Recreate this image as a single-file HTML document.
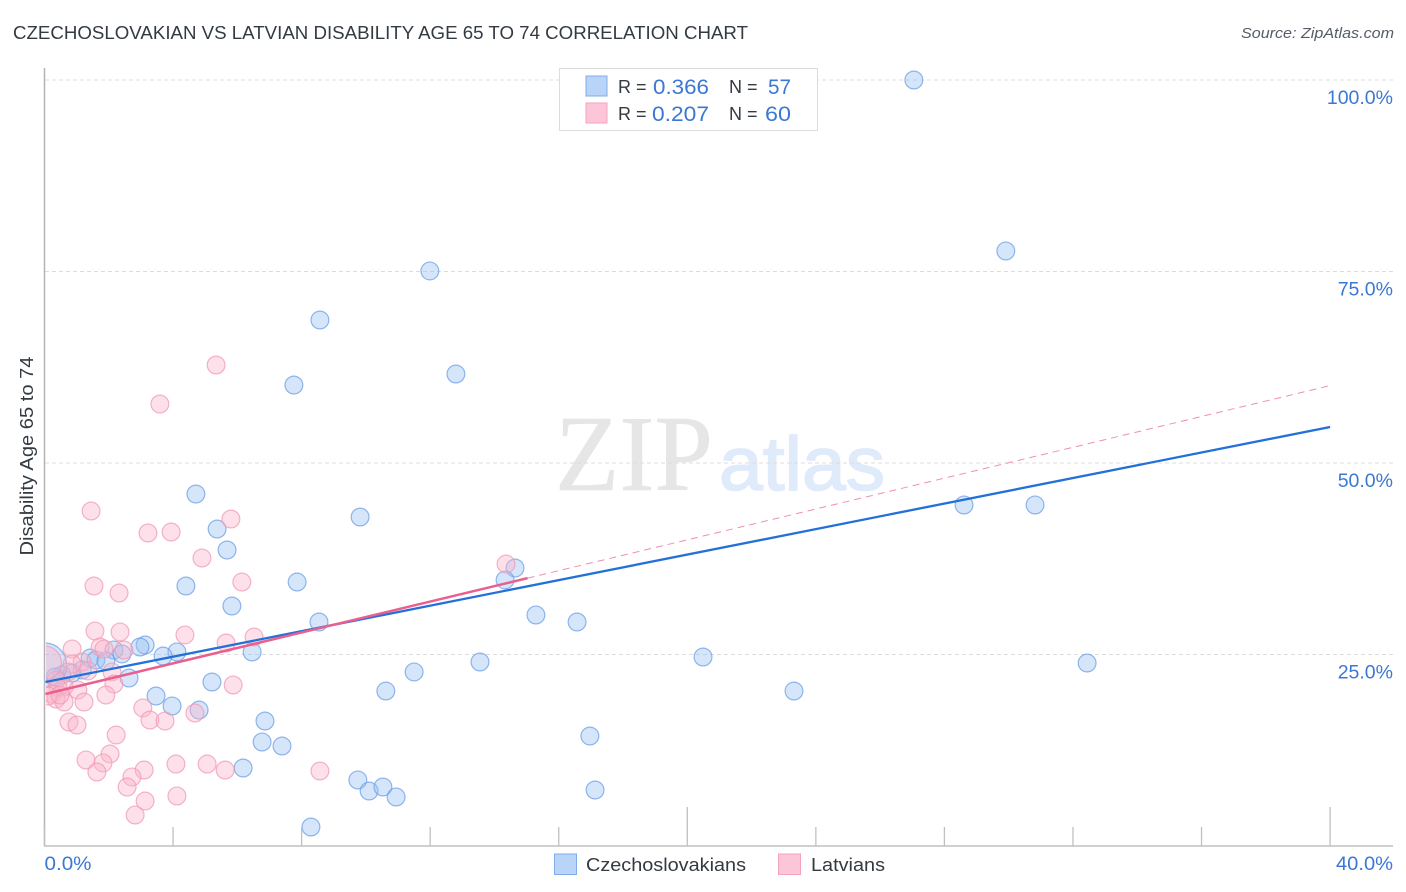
<!DOCTYPE html>
<html lang="en">
<head>
<meta charset="utf-8">
<title>Czechoslovakian vs Latvian Disability Age 65 to 74 Correlation Chart</title>
<style>
html,body{margin:0;padding:0;background:#fff;width:1406px;height:892px;overflow:hidden}
svg{display:block;font-family:"Liberation Sans",sans-serif}
</style>
</head>
<body>
<svg id="chart" xmlns="http://www.w3.org/2000/svg" width="1406" height="892" viewBox="0 0 1406 892">
  <defs>
    <clipPath id="plot-clip"><rect x="46" y="60" width="1350" height="786"/></clipPath>
  </defs>
  <rect x="0" y="0" width="1406" height="892" fill="#ffffff"/>
  <text x="13" y="39" font-size="18.5" fill="#333a42" textLength="735" lengthAdjust="spacingAndGlyphs">CZECHOSLOVAKIAN VS LATVIAN DISABILITY AGE 65 TO 74 CORRELATION CHART</text>
  <text x="1394" y="38" font-size="15" font-style="italic" fill="#555c66" text-anchor="end" textLength="153" lengthAdjust="spacingAndGlyphs">Source: ZipAtlas.com</text>
  <g>
    <text x="555" y="490" font-family="'Liberation Serif',serif" font-size="108" fill="#e6e6e6" stroke="#e6e6e6" stroke-width="0.6" textLength="158" lengthAdjust="spacingAndGlyphs">ZIP</text>
    <text x="719" y="490" font-size="76" fill="#dfeafa" stroke="#dfeafa" stroke-width="1.6" textLength="166" lengthAdjust="spacingAndGlyphs">atlas</text>
  </g>
  <g id="grid"></g>
  <g id="czech-points" clip-path="url(#plot-clip)"></g>
  <g id="latvian-points" clip-path="url(#plot-clip)"></g>
  <rect x="0" y="60" width="44" height="290" fill="none"/>
  <rect x="0" y="630" width="44" height="70" fill="#ffffff"/>
  <g id="axes">
    <line x1="44.5" y1="68" x2="44.5" y2="846" stroke="#b4b4b4" stroke-width="1.5"/>
    <line x1="44" y1="846" x2="1393" y2="846" stroke="#b4b4b4" stroke-width="1.2"/>
  </g>
  <g id="x-ticks"></g>
  <g id="trends"></g>
  <g id="y-labels"></g>
  <g id="x-labels"></g>
  <text transform="translate(33,456) rotate(-90)" font-size="18" fill="#333a42" text-anchor="middle" textLength="199" lengthAdjust="spacingAndGlyphs">Disability Age 65 to 74</text>

  <g>
    <rect x="559.5" y="68.5" width="258" height="62" fill="#ffffff" stroke="#dcdcdc" stroke-width="1"/>
    <rect x="586" y="76" width="21" height="20" fill="#b8d4f8" stroke="#80ace8" stroke-width="1"/>
    <rect x="586" y="103" width="21" height="20" fill="#fdc6d8" stroke="#f2a4be" stroke-width="1"/>
    <text x="618" y="93" font-size="18" fill="#333a42">R =</text>
    <text x="653" y="94" font-size="21" fill="#3b78d4" textLength="56" lengthAdjust="spacingAndGlyphs">0.366</text>
    <text x="729" y="93" font-size="18" fill="#333a42">N =</text>
    <text x="768" y="94" font-size="21" fill="#3b78d4" textLength="23" lengthAdjust="spacingAndGlyphs">57</text>
    <text x="618" y="120" font-size="18" fill="#333a42">R =</text>
    <text x="652" y="121" font-size="21" fill="#3b78d4" textLength="57" lengthAdjust="spacingAndGlyphs">0.207</text>
    <text x="729" y="120" font-size="18" fill="#333a42">N =</text>
    <text x="765" y="121" font-size="21" fill="#3b78d4" textLength="26" lengthAdjust="spacingAndGlyphs">60</text>
  </g>

  <g>
    <rect x="554.5" y="854" width="22" height="20.5" fill="#b8d4f8" stroke="#80ace8" stroke-width="1"/>
    <text x="586" y="871" font-size="18.5" fill="#333a42" textLength="160" lengthAdjust="spacingAndGlyphs">Czechoslovakians</text>
    <rect x="778.5" y="854" width="22" height="20.5" fill="#fdc6d8" stroke="#f2a4be" stroke-width="1"/>
    <text x="811" y="871" font-size="18.5" fill="#333a42" textLength="74" lengthAdjust="spacingAndGlyphs">Latvians</text>
  </g>
</svg>

<script>
// Chart data (percent units)
const czechX = [27.05,29.91,11.99,8.57,12.80,7.76,4.71,28.61,30.82,9.82,5.37,5.68,14.64,14.33,4.40,7.86,5.83,15.29,16.57,8.54,3.13,2.97,2.16,2.41,4.12,6.46,3.69,20.49,1.42,1.60,1.91,13.55,32.44,11.50,1.17,0.86,0.54,0.33,2.63,5.21,10.62,23.32,3.47,3.97,4.81,6.86,6.77,16.97,7.39,6.18,9.75,10.10,10.53,10.94,17.13,8.29,0.00];
const czechY = [100.0,77.68,75.07,68.67,61.62,60.18,45.95,44.52,44.52,42.95,41.38,38.64,36.29,34.73,33.94,34.46,31.33,30.16,29.24,29.24,26.24,25.98,25.59,25.07,25.33,25.33,24.80,24.67,24.54,24.28,24.15,24.02,23.89,22.72,22.98,22.58,22.32,22.06,21.93,21.41,20.23,20.23,19.58,18.28,17.75,16.32,13.58,14.36,13.05,10.18,8.62,7.18,7.70,6.40,7.31,2.48,23.60];
const latvianX = [5.34,3.59,1.45,5.80,3.22,3.94,4.90,14.36,6.14,1.54,2.32,1.57,2.35,4.37,6.52,5.65,0.86,1.73,1.85,2.47,1.17,0.86,1.35,2.10,0.73,0.36,2.16,5.87,0.61,1.04,0.42,1.91,0.23,0.36,0.61,1.23,3.06,4.68,3.28,3.75,0.76,1.01,2.23,2.04,1.29,1.82,1.63,3.10,2.72,2.57,4.09,5.06,5.62,8.57,3.13,4.12,2.82,0.00,0.11,0.48];
const latvianY = [62.79,57.70,43.73,42.69,40.86,40.99,37.60,36.81,34.46,33.94,33.03,28.07,27.94,27.55,27.28,26.50,25.72,25.98,25.72,25.59,24.02,23.76,22.85,22.72,22.72,21.67,21.15,21.02,20.76,20.37,20.63,19.71,19.84,19.19,18.80,18.80,18.02,17.36,16.45,16.32,16.19,15.80,14.49,12.01,11.23,10.84,9.66,9.92,9.01,7.70,10.70,10.70,9.92,9.79,5.87,6.53,4.05,23.90,19.58,19.71];
const czechWeights = [1,1,1,1,1,1,1,1,1,1,1,1,1,1,1,1,1,1,1,1,1,1,1,1,1,1,1,1,1,1,1,1,1,1,1,1,1,1,1,1,1,1,1,1,1,1,1,1,1,1,1,1,1,1,1,1,2.5];
const latvianWeights = [1,1,1,1,1,1,1,1,1,1,1,1,1,1,1,1,1,1,1,1,1,1,1,1,1,1,1,1,1,1,1,1,1,1,1,1,1,1,1,1,1,1,1,1,1,1,1,1,1,1,1,1,1,1,1,1,1,1.9,1,1];
const czechTrend = [21.41, 54.70];
const latvianTrend = [19.84, 60.10];
const latvianSolidEnd = 15.03;
const yTicks = [25, 50, 75, 100];
const yTickLabels = ["25.0%", "50.0%", "75.0%", "100.0%"];
const xTicks = [0, 4, 8, 12, 16, 20, 24, 28, 32, 36, 40];
const xMajorTicks = [20, 40];
const xEndValues = [0, 40];
const xEndLabels = ["0.0%", "40.0%"];

const NS = "http://www.w3.org/2000/svg";
const xScale = v => 44.5 + v * 32.14;
const yScale = v => 846 - v * 7.66;
const baseRadius = 8.9;

function mk(tag, parentId, attrs) {
  const el = document.createElementNS(NS, tag);
  for (const k in attrs) el.setAttribute(k, attrs[k]);
  document.getElementById(parentId).appendChild(el);
  return el;
}

yTicks.forEach(function (t, i) {
  const g = mk("line", "grid", {x1: 45, x2: 1393, y1: yScale(t), y2: yScale(t), stroke: "#dcdcdc", "stroke-width": 1, "stroke-dasharray": "4 3"});
  
  
  const l = mk("text", "y-labels", {x: 1393, y: yScale(t) + 24, "font-size": 19.5, fill: "#3b78d4", "text-anchor": "end"});
  
  
  l.textContent = yTickLabels[i];
});

xTicks.forEach(function (t) {
  const major = xMajorTicks.indexOf(t) >= 0;
  const tick = mk("line", "x-ticks", {x1: xScale(t), x2: xScale(t), y1: major ? 807 : 827, y2: 846, stroke: "#c0c0c0", "stroke-width": 1.3});
  
  
});

xEndValues.forEach(function (t, i) {
  const l = mk("text", "x-labels", {x: i === 0 ? xScale(t) : 1393, y: 870, "font-size": 19.5, fill: "#3b78d4", "text-anchor": i === 0 ? "start" : "end", textLength: i === 0 ? 47 : 57, lengthAdjust: "spacingAndGlyphs"});
  
  
  l.textContent = xEndLabels[i];
});

czechX.forEach(function (x, i) {
  const c = mk("circle", "czech-points", {cx: xScale(x), cy: yScale(czechY[i]), r: baseRadius * czechWeights[i], fill: "#9cc2f3", "fill-opacity": 0.42, stroke: "#6c9fe6", "stroke-opacity": 0.75, "stroke-width": 1.2});
  
  
});

latvianX.forEach(function (x, i) {
  const c = mk("circle", "latvian-points", {cx: xScale(x), cy: yScale(latvianY[i]), r: baseRadius * latvianWeights[i], fill: "#fbb4ca", "fill-opacity": 0.42, stroke: "#f09ab6", "stroke-opacity": 0.75, "stroke-width": 1.2});
  
  
});

const latvianAt = v => latvianTrend[0] + (latvianTrend[1] - latvianTrend[0]) * v / 40;

const dash = mk("line", "trends", {x1: xScale(latvianSolidEnd), y1: yScale(latvianAt(latvianSolidEnd)), x2: xScale(40), y2: yScale(latvianTrend[1]), stroke: "#ea6a94", "stroke-width": 1, "stroke-dasharray": "7 5", "stroke-opacity": 0.75});



const blueLine = mk("line", "trends", {x1: xScale(0) + 1, y1: yScale(czechTrend[0]), x2: xScale(40), y2: yScale(czechTrend[1]), stroke: "#2370d8", "stroke-width": 2.3});



const pinkLine = mk("line", "trends", {x1: xScale(0) + 1, y1: yScale(latvianTrend[0]), x2: xScale(latvianSolidEnd), y2: yScale(latvianAt(latvianSolidEnd)), stroke: "#ea5f8e", "stroke-width": 2.5});


</script>
</body>
</html>
